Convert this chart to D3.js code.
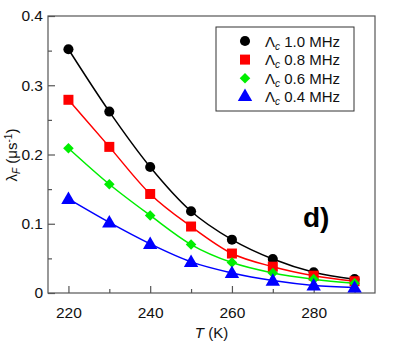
<!DOCTYPE html>
<html>
<head>
<meta charset="utf-8">
<script src="https://cdn.jsdelivr.net/npm/d3@7"></script>
<style>
  body { margin: 0; background: #fff; }
  text { font-family: 'Liberation Sans', Arial, sans-serif; }
</style>
</head>
<body>
<div id="chart"></div>
<script>
const temps = [220, 230, 240, 250, 260, 270, 280, 290]
const lam10 = [0.352, 0.262, 0.182, 0.118, 0.077, 0.049, 0.030, 0.020]
const lam08 = [0.279, 0.211, 0.143, 0.096, 0.057, 0.038, 0.025, 0.017]
const lam06 = [0.209, 0.157, 0.112, 0.070, 0.044, 0.029, 0.020, 0.014]
const lam04 = [0.136, 0.102, 0.071, 0.045, 0.029, 0.018, 0.011, 0.008]
const seriesNames = ['1.0 MHz', '0.8 MHz', '0.6 MHz', '0.4 MHz']
const xTicks = [220, 240, 260, 280]
const yTicks = [0, 0.1, 0.2, 0.3, 0.4]

const W = 407, H = 344
const MARGIN = { top: 16, right: 32, bottom: 51, left: 48 }
const colors = ['#000000', '#ff0000', '#00ee00', '#0000ff']
const symbols = [d3.symbolCircle, d3.symbolSquare, d3.symbolSquare, d3.symbolTriangle]
const symSizes = [80, 100, 56, 90]
const symRot = [0, 0, 45, 0]
const frame = '#555'

const svg = d3.select('#chart').append('svg').attr('width', W).attr('height', H)

const x = d3.scaleLinear().domain([215, 295]).range([MARGIN.left, W - MARGIN.right])
const y = d3.scaleLinear().domain([0, 0.4]).range([H - MARGIN.bottom, MARGIN.top])

// frame
svg.append('rect')
  .attr('x', x(215)).attr('y', y(0.4))
  .attr('width', x(295) - x(215)).attr('height', y(0) - y(0.4))
  .attr('fill', 'none').attr('stroke', frame).attr('stroke-width', 1.2)

// axes with inward ticks
const xAxis = d3.axisBottom(x).tickValues(xTicks).tickFormat(d3.format('d')).tickSize(-7).tickPadding(14)
svg.append('g').attr('transform', `translate(0,${y(0)})`).call(xAxis)
const xMinor = d3.axisBottom(x).tickValues([230, 250, 270, 290]).tickFormat('').tickSize(-4)
svg.append('g').attr('transform', `translate(0,${y(0)})`).call(xMinor)

const yAxis = d3.axisLeft(y).tickValues(yTicks).tickFormat(d => d === 0 ? '0' : d3.format('.1f')(d)).tickSize(-7).tickPadding(5)
svg.append('g').attr('transform', `translate(${x(215)},0)`).call(yAxis)
const yMinor = d3.axisLeft(y).tickValues([0.05, 0.15, 0.25, 0.35]).tickFormat('').tickSize(-4)
svg.append('g').attr('transform', `translate(${x(215)},0)`).call(yMinor)

svg.selectAll('.domain').remove()
svg.selectAll('.tick line').attr('stroke', frame).attr('stroke-width', 1.2)
svg.selectAll('.tick text').style('font-size', '15.5px').attr('fill', '#111')

// curves + markers
const allSeries = [lam10, lam08, lam06, lam04]
const line = d3.line().x(d => x(d[0])).y(d => y(d[1])).curve(d3.curveMonotoneX)
allSeries.forEach((vals, i) => {
  const pts = temps.map((t, j) => [t, vals[j]])
  svg.append('path').datum(pts).attr('d', line)
    .attr('fill', 'none').attr('stroke', colors[i]).attr('stroke-width', 1.5)
})
allSeries.forEach((vals, i) => {
  const pts = temps.map((t, j) => [t, vals[j]])
  svg.append('g').selectAll('path').data(pts).enter().append('path')
    .attr('transform', d => `translate(${x(d[0])},${y(d[1]) + (i === 3 ? 1 : 0)}) rotate(${symRot[i]})`)
    .attr('d', d3.symbol().type(symbols[i]).size(symSizes[i]))
    .attr('fill', colors[i])
})

// legend
const lg = svg.append('g')
lg.append('rect').attr('x', 216).attr('y', 27).attr('width', 138).attr('height', 84)
  .attr('fill', '#fff').attr('stroke', '#333').attr('stroke-width', 1)
seriesNames.forEach((name, i) => {
  const cy = 41 + i * 18.6
  lg.append('path').attr('transform', `translate(245,${cy}) rotate(${symRot[i]})`)
    .attr('d', d3.symbol().type(symbols[i]).size(symSizes[i])).attr('fill', colors[i])
  const t = lg.append('text').attr('x', 265).attr('y', cy + 5.5).style('font-size', '15px').attr('fill', '#111')
  t.append('tspan').text('Λ')
  t.append('tspan').text('c').style('font-size', '10px').style('font-style', 'italic').attr('dy', 3)
  t.append('tspan').text(' ' + name).attr('dy', -3)
})

// panel label
svg.append('text').attr('x', 303).attr('y', 227).text('d)')
  .style('font-size', '28px').style('font-weight', 'bold').attr('fill', '#000')

// axis labels
const xl = svg.append('text').attr('x', x(255)).attr('y', 338).attr('text-anchor', 'middle')
  .style('font-size', '15px').attr('fill', '#111')
xl.append('tspan').text('T').style('font-style', 'italic')
xl.append('tspan').text(' (K)')

const yl = svg.append('text').attr('transform', 'translate(17,155) rotate(-90)').attr('text-anchor', 'middle')
  .style('font-size', '15px').attr('fill', '#111')
yl.append('tspan').text('λ')
yl.append('tspan').text('F').style('font-size', '10px').style('font-style', 'italic').attr('dy', 3)
yl.append('tspan').text(' (μs').attr('dy', -3)
yl.append('tspan').text('-1').style('font-size', '10px').attr('dy', -5)
yl.append('tspan').text(')').attr('dy', 5)
</script>
</body>
</html>
